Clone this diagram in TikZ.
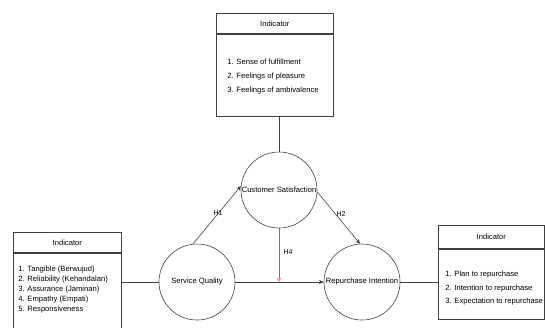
\documentclass[tikz,border=0pt]{standalone}
\usepackage{fontspec}
\setmainfont{Liberation Sans}
\usetikzlibrary{arrows.meta}

\tikzset{
  var/.style={draw=black!75, circle, minimum size=2.28cm, inner sep=0pt, font=\fontsize{6.5}{8}\selectfont},
  indhead/.style={draw=black!75, rectangle, inner sep=0pt, anchor=north west, font=\fontsize{6.5}{8}\selectfont},
  indbody/.style={draw=black!75, rectangle, inner sep=0pt, anchor=north},
  items/.style={anchor=north west, align=left, inner sep=0pt},
  link/.style={draw=black!75, -{Stealth[length=4pt,width=3.5pt]}},
  plain/.style={draw=black!75},
  hyp/.style={inner sep=0pt, font=\fontsize{6}{7}\selectfont},
}

\begin{document}
\begin{tikzpicture}[x=0.03cm,y=-0.03cm,line width=0.5pt]
 	\useasboundingbox (0,0) rectangle (545,327);
 	% indicator boxes
 	\node [indhead, minimum width=3.51cm, minimum height=0.6cm] (sathead) at (216,13) {Indicator};
 	\node [indbody, minimum width=3.51cm, minimum height=2.46cm] (satbody) at (sathead.south) {};
 	\node [items, font=\fontsize{6.5}{12}\selectfont] (satitems) at (227,59) {1. Sense of fulfillment\\2. Feelings of pleasure\\3. Feelings of ambivalence};
 	\node [indhead, minimum width=3.24cm, minimum height=0.6cm] (sqhead) at (13,232) {Indicator};
 	\node [indbody, minimum width=3.24cm, minimum height=2.7cm] (sqbody) at (sqhead.south) {};
 	\node [items, font=\fontsize{6.5}{8.5}\selectfont] (sqitems) at (18,266) {1. Tangible (Berwujud)\\2. Reliability (Kehandalan)\\3. Assurance (Jaminan)\\4. Empathy (Empati)\\5. Responsiveness};
 	\node [indhead, minimum width=3.18cm, minimum height=0.69cm] (rihead) at (438,225) {Indicator};
 	\node [indbody, minimum width=3.18cm, minimum height=2.1cm] (ribody) at (rihead.south) {};
 	\node [items, font=\fontsize{6.5}{11.5}\selectfont] (riitems) at (445,271) {1. Plan to repurchase\\2. Intention to repurchase\\3. Expectation to repurchase};
 	% variables
 	\node [var] (cs) at (279,190) {Customer Satisfaction};
 	\node [var] (sq) at (197,282) {Service Quality};
 	\node [var] (ri) at (362,282) {Repurchase Intention};
 	% connectors
 	\draw [plain] (cs.north |- satbody.south) -- (cs.north);
 	\draw [plain] (sq.west -| sqbody.east) -- (sq.west);
 	\draw [plain] (ri.east) -- (ri.east -| ribody.west);
 	\draw [link] (sq.east) -- (ri.west);
 	\draw [link] (sq.96) -- (cs.174);
 	\draw [link] (cs.-3) -- (ri.93);
 	\coordinate (h4end) at (sq.east -| cs.south);
 	\draw [draw=black!55, -{Stealth[length=4pt,width=4pt,red!45]}] (cs.south) -- (h4end);
 	% hypotheses
 	\node [hyp] (h1) at (218,213) {H1};
 	\node [hyp] (h2) at (341,214) {H2};
 	\node [hyp] (h4) at (288,252) {H4};
\end{tikzpicture}
\end{document}
